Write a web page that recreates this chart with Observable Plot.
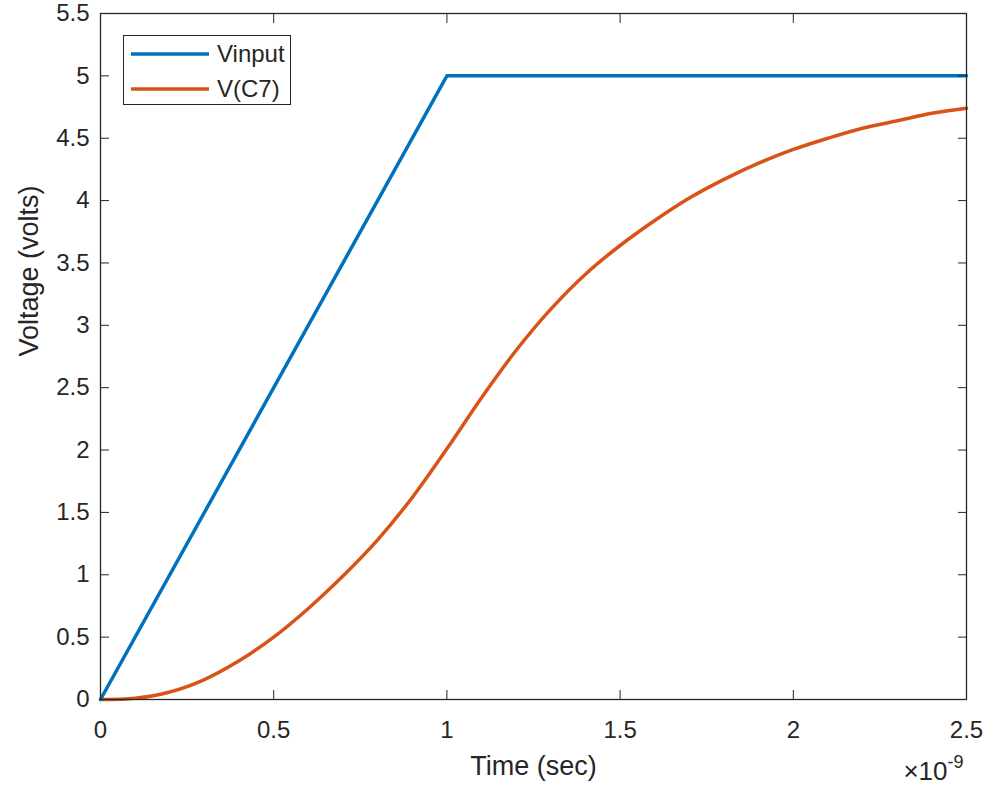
<!DOCTYPE html>
<html>
<head>
<meta charset="utf-8">
<script src="https://cdn.jsdelivr.net/npm/d3@7"></script>
<script src="https://cdn.jsdelivr.net/npm/@observablehq/plot@0.6"></script>
<style>
  html, body { margin: 0; padding: 0; background: #fff; }
  #wrap { position: relative; width: 992px; height: 787px; font-family: "Liberation Sans", Arial, sans-serif; }
  #legend { position: absolute; left: 123px; top: 35px; width: 168px; height: 70px; border: 1.3px solid #262626; background: #fff; box-sizing: border-box; }
  .item { position: absolute; left: 6px; height: 24px; display: flex; align-items: center; font-size: 24px; color: #262626; }
  .item svg { margin-right: 7px; }
</style>
</head>
<body>
<div id="wrap"></div>
<script>
// Time in units of 1e-9 s
const tInput = [0, 1, 2.5];
const vInput = [0, 5, 5];
const tC7 = [0, 0.1, 0.2, 0.3, 0.4, 0.5, 0.6, 0.7, 0.8, 0.9, 1.0, 1.1, 1.2, 1.3, 1.4, 1.5, 1.6, 1.7, 1.8, 1.9, 2.0, 2.1, 2.2, 2.3, 2.4, 2.5];
const vC7 = [0, 0.01, 0.06, 0.16, 0.31, 0.50, 0.73, 0.99, 1.28, 1.62, 2.01, 2.42, 2.80, 3.13, 3.41, 3.64, 3.84, 4.02, 4.17, 4.30, 4.41, 4.50, 4.58, 4.64, 4.70, 4.74];
const seriesNames = ["Vinput", "V(C7)"];
const seriesColors = ["#0072BD", "#D95319"];
const xTicks = [0, 0.5, 1, 1.5, 2, 2.5];
const yTicks = [0, 0.5, 1, 1.5, 2, 2.5, 3, 3.5, 4, 4.5, 5, 5.5];
const xLabel = "Time (sec)";
const yLabel = "Voltage (volts)";
const xExpBase = "×10";
const xExp = "-9";

const inputData = tInput.map((t, i) => ({t, v: vInput[i], s: seriesNames[0]}));
const c7Data = tC7.map((t, i) => ({t, v: vC7[i], s: seriesNames[1]}));
const fmt = d => String(d);
const ink = "#262626";

const chart = Plot.plot({
  width: 992,
  height: 787,
  marginLeft: 100,
  marginRight: 26,
  marginTop: 13,
  marginBottom: 88,
  style: {fontFamily: "'Liberation Sans', Arial, sans-serif", fontSize: "24px", color: ink, background: "#fff"},
  x: {domain: [0, 2.5]},
  y: {domain: [0, 5.5]},
  marks: [
    Plot.line(c7Data, {x: "t", y: "v", stroke: seriesColors[1], strokeWidth: 3.5, curve: "catmull-rom"}),
    Plot.line(inputData, {x: "t", y: "v", stroke: seriesColors[0], strokeWidth: 3.5}),
    Plot.frame({stroke: ink, strokeWidth: 1.3}),
    Plot.axisX(xTicks, {anchor: "bottom", tickSize: 0, tickPadding: 21, tickFormat: fmt, label: null, fontSize: 24, fill: ink}),
    Plot.axisY(yTicks, {anchor: "left", tickSize: 0, tickPadding: 11, tickFormat: fmt, label: null, fontSize: 24, fill: ink}),
    Plot.axisX(xTicks, {anchor: "bottom", tickSize: -9, tickFormat: () => "", label: null, stroke: ink}),
    Plot.axisX(xTicks, {anchor: "top", tickSize: -9, tickFormat: () => "", label: null, stroke: ink}),
    Plot.axisY(yTicks, {anchor: "left", tickSize: -9, tickFormat: () => "", label: null, stroke: ink}),
    Plot.axisY(yTicks, {anchor: "right", tickSize: -9, tickFormat: () => "", label: null, stroke: ink}),
    Plot.text([xLabel], {frameAnchor: "bottom", dy: 67, lineAnchor: "middle", text: d => d, fontSize: 27, fill: ink}),
    Plot.text([yLabel], {frameAnchor: "left", dx: -71, rotate: -90, lineAnchor: "middle", text: d => d, fontSize: 27, fill: ink}),
    Plot.text([xExpBase], {frameAnchor: "bottom-right", dx: -19, dy: 72, textAnchor: "end", lineAnchor: "middle", text: d => d, fontSize: 26, fill: ink}),
    Plot.text([xExp], {frameAnchor: "bottom-right", dx: -19, dy: 63, textAnchor: "start", lineAnchor: "middle", text: d => d, fontSize: 18, fill: ink})
  ]
});

const wrap = document.getElementById("wrap");
wrap.appendChild(chart);

const legend = document.createElement("div");
legend.id = "legend";
seriesNames.forEach((name, i) => {
  const item = document.createElement("div");
  item.className = "item";
  item.style.top = (6 + i * 35) + "px";
  item.innerHTML = `<svg width="80" height="8"><line x1="1" y1="4" x2="79" y2="4" stroke="${seriesColors[i]}" stroke-width="3.5"/></svg><span>${name}</span>`;
  legend.appendChild(item);
});
wrap.appendChild(legend);
</script>
</body>
</html>
